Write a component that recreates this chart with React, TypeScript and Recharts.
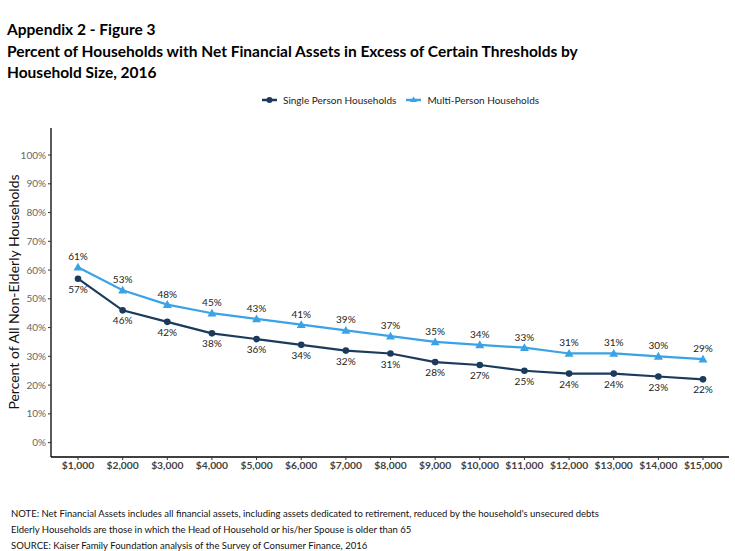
import React from "react";
import { LineChart, Line, XAxis, YAxis, LabelList } from "recharts";

const thresholds = [
  "$1,000", "$2,000", "$3,000", "$4,000", "$5,000", "$6,000", "$7,000", "$8,000",
  "$9,000", "$10,000", "$11,000", "$12,000", "$13,000", "$14,000", "$15,000",
];
const singlePerson = [57, 46, 42, 38, 36, 34, 32, 31, 28, 27, 25, 24, 24, 23, 22];
const multiPerson = [61, 53, 48, 45, 43, 41, 39, 37, 35, 34, 33, 31, 31, 30, 29];
const yTicks = [0, 10, 20, 30, 40, 50, 60, 70, 80, 90, 100];

const data = thresholds.map((t, i) => ({
  name: t,
  single: singlePerson[i],
  multi: multiPerson[i],
}));

const NAVY = "#1b3a5c";
const BLUE = "#3aa3e6";
const FONT = "Lato, 'Open Sans', sans-serif";

const Triangle = (props: any) => {
  const { cx, cy } = props;
  if (cx == null || cy == null) return null;
  const s = 4.5;
  return (
    <path
      d={`M${cx},${cy - s} L${cx + s},${cy + s * 0.75} L${cx - s},${cy + s * 0.75} Z`}
      fill={BLUE}
    />
  );
};

const pct = (v: any) => `${v}%`;

export default function App() {
  return (
    <div
      style={{
        position: "absolute",
        left: 0,
        top: 0,
        width: 735,
        height: 551,
        background: "#fff",
        fontFamily: FONT,
        color: "#000",
      }}
    >
      <div
        style={{
          position: "absolute",
          left: 7,
          top: 19,
          fontSize: 15.5,
          fontWeight: 700,
          lineHeight: "21.5px",
          width: 720,
        }}
      >
        Appendix 2 - Figure 3
        <br />
        Percent of Households with Net Financial Assets in Excess of Certain Thresholds by
        <br />
        Household Size, 2016
      </div>

      <div
        style={{
          position: "absolute",
          left: 262,
          top: 94,
          display: "flex",
          alignItems: "center",
          fontSize: 10,
          color: "#222",
          whiteSpace: "nowrap",
        }}
      >
        <svg width={15} height={10} style={{ marginRight: 6 }}>
          <line x1={0} y1={5} x2={15} y2={5} stroke={NAVY} strokeWidth={2.5} />
          <circle cx={7.5} cy={5} r={3} fill={NAVY} />
        </svg>
        <span style={{ marginRight: 10 }}>Single Person Households</span>
        <svg width={15} height={10} style={{ marginRight: 6 }}>
          <line x1={0} y1={5} x2={15} y2={5} stroke={BLUE} strokeWidth={2.5} />
          <path d="M7.5,1.5 L11,7 L4,7 Z" fill={BLUE} />
        </svg>
        <span>Multi-Person Households</span>
      </div>

      <div
        style={{
          position: "absolute",
          left: 13,
          top: 292,
          fontSize: 14,
          color: "#111",
          whiteSpace: "nowrap",
          transform: "translate(-50%, -50%) rotate(-90deg)",
        }}
      >
        Percent of All Non-Elderly Households
      </div>

      <div style={{ position: "absolute", left: 0, top: 0 }}>
        <LineChart
          width={735}
          height={551}
          data={data}
          margin={{ top: 128, right: 6, bottom: 64, left: 6 }}
        >
          <XAxis
            dataKey="name"
            height={30}
            padding={{ left: 27, right: 26 }}
            axisLine={{ stroke: "#000", strokeWidth: 1.3 }}
            tickLine={{ stroke: "#333" }}
            tickSize={3}
            interval={0}
            tick={{ fontSize: 10.3, fontWeight: 700, fill: "#444", fontFamily: FONT }}
          />
          <YAxis
            width={45}
            domain={[-5, 109.4]}
            ticks={yTicks}
            tickFormatter={pct}
            axisLine={{ stroke: "#000", strokeWidth: 1.3 }}
            tickLine={{ stroke: "#333" }}
            tickSize={3}
            interval={0}
            tick={{ fontSize: 10, fill: "#666", fontFamily: FONT }}
          />
          <Line
            dataKey="single"
            stroke={NAVY}
            strokeWidth={2.2}
            dot={{ r: 3.3, fill: NAVY, stroke: NAVY, strokeWidth: 0 }}
            isAnimationActive={false}
          >
            <LabelList
              dataKey="single"
              position="bottom"
              offset={7}
              formatter={pct}
              style={{ fontSize: 10, fill: "#222", fontFamily: FONT }}
            />
          </Line>
          <Line
            dataKey="multi"
            stroke={BLUE}
            strokeWidth={2.2}
            dot={<Triangle />}
            isAnimationActive={false}
          >
            <LabelList
              dataKey="multi"
              position="top"
              offset={7}
              formatter={pct}
              style={{ fontSize: 10, fill: "#222", fontFamily: FONT }}
            />
          </Line>
        </LineChart>
      </div>

      <div
        style={{
          position: "absolute",
          left: 11,
          top: 506,
          fontSize: 9.5,
          lineHeight: "16px",
          color: "#111",
          whiteSpace: "nowrap",
        }}
      >
        NOTE: Net Financial Assets includes all financial assets, including assets dedicated to retirement, reduced by the household's unsecured debts
        <br />
        Elderly Households are those in which the Head of Household or his/her Spouse is older than 65
        <br />
        SOURCE: Kaiser Family Foundation analysis of the Survey of Consumer Finance, 2016
      </div>
    </div>
  );
}
